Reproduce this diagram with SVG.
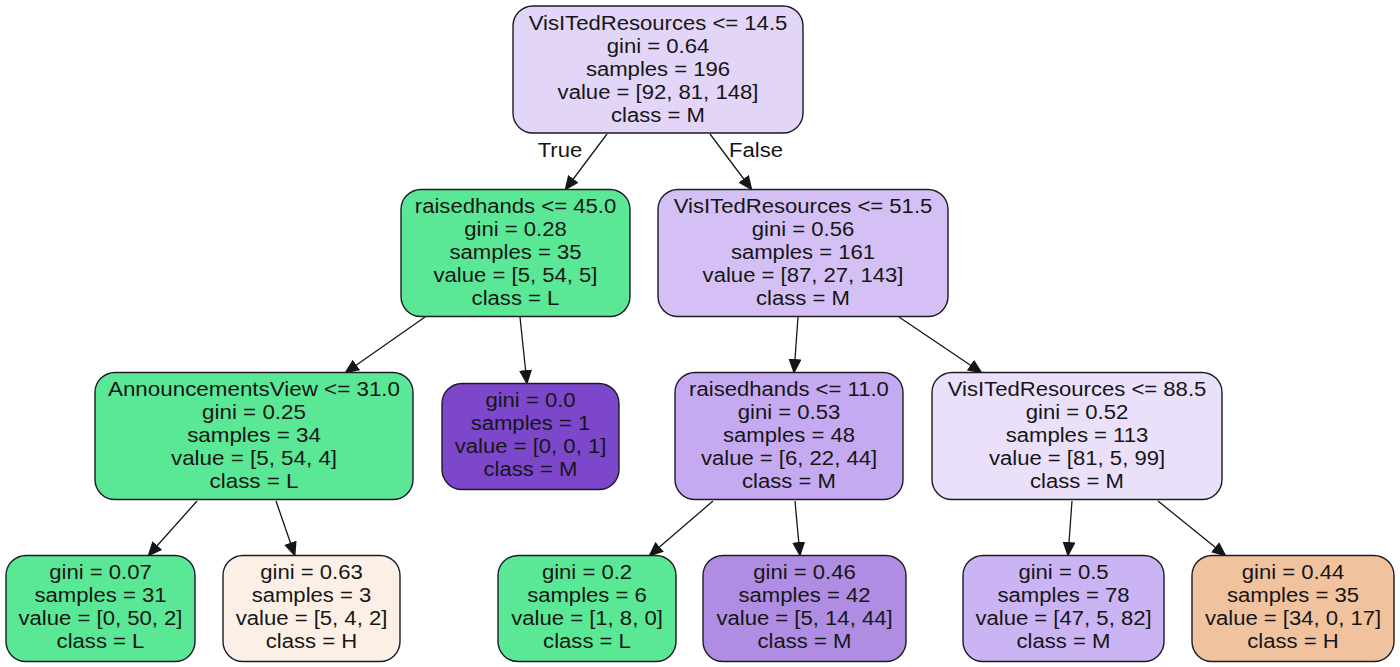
<svg xmlns="http://www.w3.org/2000/svg" width="1400" height="667" viewBox="0 0 1400 667">
<style>
.box{stroke:#1c1a24;stroke-width:1.4}
.t{font-family:"Liberation Sans",Arial,sans-serif;font-size:20px;fill:#161616;text-anchor:middle}
.e{stroke:#161616;stroke-width:1.3;fill:none}
</style>
<defs>
<marker id="ah" viewBox="0 0 15 13" refX="14" refY="6.5" markerWidth="15" markerHeight="13" markerUnits="userSpaceOnUse" orient="auto">
<path d="M0,0 L15,6.5 L0,13 z" fill="#161616"/>
</marker>
</defs>
<rect width="1400" height="667" fill="#ffffff"/>
<g id="connectors">
<line class="e" x1="607" y1="134" x2="565" y2="190" marker-end="url(#ah)"/>
<line class="e" x1="710" y1="134" x2="752" y2="190" marker-end="url(#ah)"/>
<line class="e" x1="425" y1="317" x2="345" y2="373" marker-end="url(#ah)"/>
<line class="e" x1="520" y1="317" x2="527" y2="384" marker-end="url(#ah)"/>
<line class="e" x1="798" y1="317" x2="794" y2="373" marker-end="url(#ah)"/>
<line class="e" x1="899" y1="317" x2="982" y2="373" marker-end="url(#ah)"/>
<line class="e" x1="197" y1="501" x2="148" y2="556" marker-end="url(#ah)"/>
<line class="e" x1="276" y1="501" x2="295" y2="556" marker-end="url(#ah)"/>
<line class="e" x1="713" y1="501" x2="649" y2="556" marker-end="url(#ah)"/>
<line class="e" x1="795" y1="501" x2="800" y2="556" marker-end="url(#ah)"/>
<line class="e" x1="1072" y1="501" x2="1068" y2="556" marker-end="url(#ah)"/>
<line class="e" x1="1158" y1="501" x2="1226" y2="556" marker-end="url(#ah)"/>
<g transform="translate(560,0) scale(1.105,1)"><text class="t" x="0" y="157.5">True</text></g>
<g transform="translate(756,0) scale(1.105,1)"><text class="t" x="0" y="157.5">False</text></g>
</g>
<g id="n0">
<rect class="box" x="513" y="6" width="290" height="127" rx="20" ry="20" fill="#e2d5f8"/>
<g transform="translate(658,0) scale(1.105,1)">
<text class="t" x="0" y="30">VisITedResources &lt;= 14.5</text>
<text class="t" x="0" y="53">gini = 0.64</text>
<text class="t" x="0" y="76">samples = 196</text>
<text class="t" x="0" y="99">value = [92, 81, 148]</text>
<text class="t" x="0" y="122">class = M</text>
</g>
</g>
<g id="n1">
<rect class="box" x="401" y="189.5" width="229" height="127" rx="20" ry="20" fill="#5ae896"/>
<g transform="translate(515.5,0) scale(1.105,1)">
<text class="t" x="0" y="213">raisedhands &lt;= 45.0</text>
<text class="t" x="0" y="236">gini = 0.28</text>
<text class="t" x="0" y="259">samples = 35</text>
<text class="t" x="0" y="282">value = [5, 54, 5]</text>
<text class="t" x="0" y="305">class = L</text>
</g>
</g>
<g id="n2">
<rect class="box" x="658" y="189.5" width="290" height="127" rx="20" ry="20" fill="#d4c0f5"/>
<g transform="translate(803,0) scale(1.105,1)">
<text class="t" x="0" y="213">VisITedResources &lt;= 51.5</text>
<text class="t" x="0" y="236">gini = 0.56</text>
<text class="t" x="0" y="259">samples = 161</text>
<text class="t" x="0" y="282">value = [87, 27, 143]</text>
<text class="t" x="0" y="305">class = M</text>
</g>
</g>
<g id="n3">
<rect class="box" x="95" y="372.5" width="318" height="127" rx="20" ry="20" fill="#5ae896"/>
<g transform="translate(254,0) scale(1.12,1)">
<text class="t" x="0" y="396">AnnouncementsView &lt;= 31.0</text>
<text class="t" x="0" y="419">gini = 0.25</text>
<text class="t" x="0" y="442">samples = 34</text>
<text class="t" x="0" y="465">value = [5, 54, 4]</text>
<text class="t" x="0" y="488">class = L</text>
</g>
</g>
<g id="n4">
<rect class="box" x="442" y="383.5" width="177" height="106" rx="20" ry="20" fill="#7d47cb"/>
<g transform="translate(530.5,0) scale(1.105,1)">
<text class="t" x="0" y="407">gini = 0.0</text>
<text class="t" x="0" y="430">samples = 1</text>
<text class="t" x="0" y="453">value = [0, 0, 1]</text>
<text class="t" x="0" y="476">class = M</text>
</g>
</g>
<g id="n5">
<rect class="box" x="675" y="372.5" width="228" height="127" rx="20" ry="20" fill="#c5a9f1"/>
<g transform="translate(789,0) scale(1.105,1)">
<text class="t" x="0" y="396">raisedhands &lt;= 11.0</text>
<text class="t" x="0" y="419">gini = 0.53</text>
<text class="t" x="0" y="442">samples = 48</text>
<text class="t" x="0" y="465">value = [6, 22, 44]</text>
<text class="t" x="0" y="488">class = M</text>
</g>
</g>
<g id="n6">
<rect class="box" x="932" y="372.5" width="290" height="127" rx="20" ry="20" fill="#ebe0fa"/>
<g transform="translate(1077,0) scale(1.105,1)">
<text class="t" x="0" y="396">VisITedResources &lt;= 88.5</text>
<text class="t" x="0" y="419">gini = 0.52</text>
<text class="t" x="0" y="442">samples = 113</text>
<text class="t" x="0" y="465">value = [81, 5, 99]</text>
<text class="t" x="0" y="488">class = M</text>
</g>
</g>
<g id="n7">
<rect class="box" x="6" y="555.5" width="189" height="106" rx="20" ry="20" fill="#5ae896"/>
<g transform="translate(100.5,0) scale(1.105,1)">
<text class="t" x="0" y="579">gini = 0.07</text>
<text class="t" x="0" y="602">samples = 31</text>
<text class="t" x="0" y="625">value = [0, 50, 2]</text>
<text class="t" x="0" y="648">class = L</text>
</g>
</g>
<g id="n8">
<rect class="box" x="223" y="555.5" width="177" height="106" rx="20" ry="20" fill="#fcf0e6"/>
<g transform="translate(311.5,0) scale(1.105,1)">
<text class="t" x="0" y="579">gini = 0.63</text>
<text class="t" x="0" y="602">samples = 3</text>
<text class="t" x="0" y="625">value = [5, 4, 2]</text>
<text class="t" x="0" y="648">class = H</text>
</g>
</g>
<g id="n9">
<rect class="box" x="498" y="555.5" width="178" height="106" rx="20" ry="20" fill="#5ae896"/>
<g transform="translate(587,0) scale(1.105,1)">
<text class="t" x="0" y="579">gini = 0.2</text>
<text class="t" x="0" y="602">samples = 6</text>
<text class="t" x="0" y="625">value = [1, 8, 0]</text>
<text class="t" x="0" y="648">class = L</text>
</g>
</g>
<g id="n10">
<rect class="box" x="703" y="555.5" width="203" height="106" rx="20" ry="20" fill="#ae8de2"/>
<g transform="translate(804.5,0) scale(1.105,1)">
<text class="t" x="0" y="579">gini = 0.46</text>
<text class="t" x="0" y="602">samples = 42</text>
<text class="t" x="0" y="625">value = [5, 14, 44]</text>
<text class="t" x="0" y="648">class = M</text>
</g>
</g>
<g id="n11">
<rect class="box" x="963" y="555.5" width="201" height="106" rx="20" ry="20" fill="#cbb4f3"/>
<g transform="translate(1063.5,0) scale(1.105,1)">
<text class="t" x="0" y="579">gini = 0.5</text>
<text class="t" x="0" y="602">samples = 78</text>
<text class="t" x="0" y="625">value = [47, 5, 82]</text>
<text class="t" x="0" y="648">class = M</text>
</g>
</g>
<g id="n12">
<rect class="box" x="1192" y="555.5" width="202" height="106" rx="20" ry="20" fill="#f0c29e"/>
<g transform="translate(1293,0) scale(1.105,1)">
<text class="t" x="0" y="579">gini = 0.44</text>
<text class="t" x="0" y="602">samples = 35</text>
<text class="t" x="0" y="625">value = [34, 0, 17]</text>
<text class="t" x="0" y="648">class = H</text>
</g>
</g>
</svg>
